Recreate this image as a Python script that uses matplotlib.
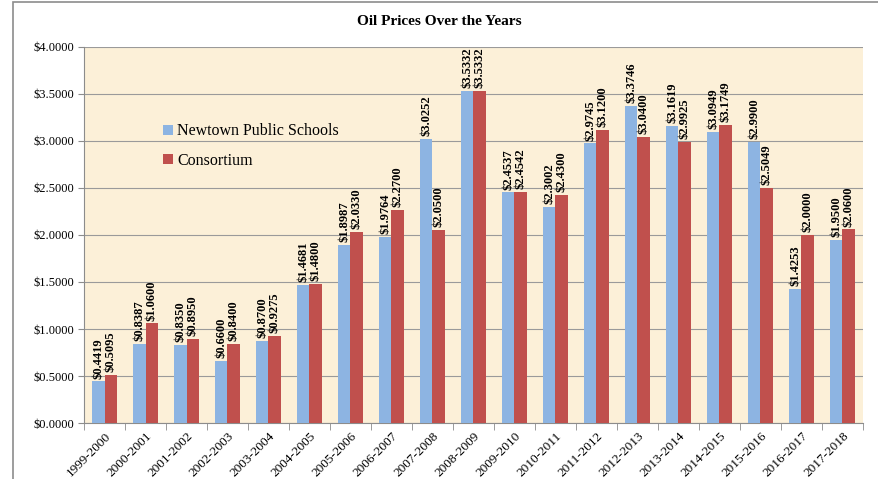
import matplotlib.pyplot as plt
import numpy as np
from matplotlib.patches import Rectangle

# Data
years = ["1999-2000", "2000-2001", "2001-2002", "2002-2003", "2003-2004",
         "2004-2005", "2005-2006", "2006-2007", "2007-2008", "2008-2009",
         "2009-2010", "2010-2011", "2011-2012", "2012-2013", "2013-2014",
         "2014-2015", "2015-2016", "2016-2017", "2017-2018"]
newtown = [0.4419, 0.8387, 0.8350, 0.6600, 0.8700, 1.4681, 1.8987, 1.9764,
           3.0252, 3.5332, 2.4537, 2.3002, 2.9745, 3.3746, 3.1619, 3.0949,
           2.9900, 1.4253, 1.9500]
consortium = [0.5095, 1.0600, 0.8950, 0.8400, 0.9275, 1.4800, 2.0330, 2.2700,
              2.0500, 3.5332, 2.4542, 2.4300, 3.1200, 3.0400, 2.9925, 3.1749,
              2.5049, 2.0000, 2.0600]

plt.rcParams['font.family'] = ['Liberation Serif', 'DejaVu Serif']

fig = plt.figure(figsize=(8.79, 4.79), dpi=100)
ax = fig.add_axes([0.0956, 0.1169, 0.886, 0.785])
ax.set_facecolor('#fcf0d8')

# Outer frame of the chart
fig.patches.append(Rectangle((13 / 879, -0.05), 1.1, 1.05 - 2 / 479,
                             transform=fig.transFigure, fill=False,
                             edgecolor='#8c8c8c', linewidth=1.2))

x = np.arange(len(years))
w = 0.3
bars1 = ax.bar(x - w / 2, newtown, w, color='#8db4e2', label='Newtown Public Schools', zorder=3)
bars2 = ax.bar(x + w / 2, consortium, w, color='#c0504d', label='Consortium', zorder=3)

# Value labels above the bars
for bars, vals in ((bars1, newtown), (bars2, consortium)):
    for b, v in zip(bars, vals):
        ax.text(b.get_x() + b.get_width() / 2, v + 0.03, f"${v:.4f}",
                rotation=90, ha='center', va='bottom', fontsize=9,
                fontweight='bold', zorder=4)

ax.set_xlim(-0.5, len(years) - 0.5)
ax.set_ylim(0, 4.0)
ax.set_yticks(np.arange(0, 4.01, 0.5))
ax.set_yticklabels([f"${t:.4f}" for t in np.arange(0, 4.01, 0.5)], fontsize=9)
ax.yaxis.grid(True, color='#9a9a9a', linewidth=0.8, zorder=0)
ax.tick_params(axis='y', length=4, color='#8c8c8c', pad=3)

ax.set_xticks(x)
ax.set_xticklabels(years, rotation=45, ha='right', rotation_mode='anchor', fontsize=9.5)
ax.tick_params(axis='x', which='major', length=0, pad=5)
ax.set_xticks(np.arange(-0.5, len(years)), minor=True)
ax.tick_params(axis='x', which='minor', length=5, color='#8c8c8c')

for s in ('top', 'right'):
    ax.spines[s].set_visible(False)
for s in ('left', 'bottom'):
    ax.spines[s].set_color('#8c8c8c')

fig.text(0.5, 0.955, "Oil Prices Over the Years", ha='center', va='center',
         fontsize=11, fontweight='bold')

ax.legend(loc='upper left', bbox_to_anchor=(0.083, 0.835), frameon=False,
          fontsize=11.5, handlelength=0.6, handleheight=0.6, handletextpad=0.3,
          labelspacing=0.85)

fig.savefig('out.png', dpi=100)
